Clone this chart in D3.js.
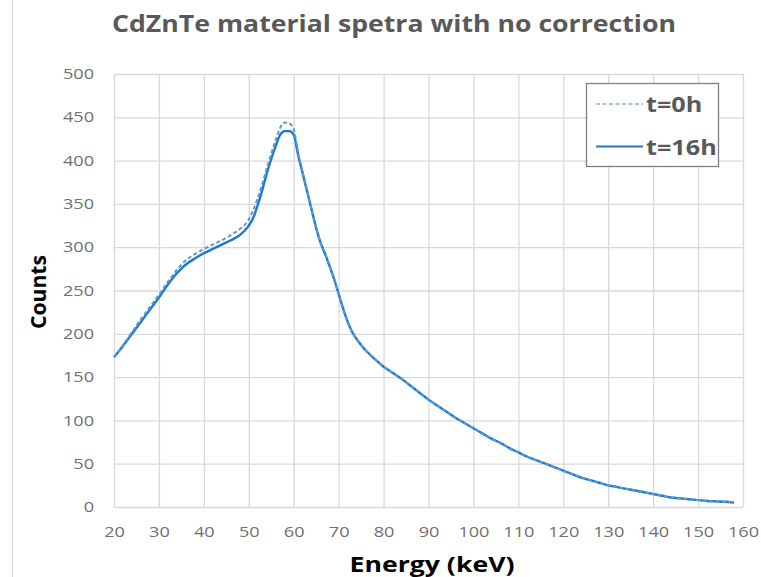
<!DOCTYPE html>
<html><head><meta charset="utf-8">
<script src="https://cdn.jsdelivr.net/npm/d3@7"></script>
<style>body{margin:0;background:#fff}svg{display:block}</style>
</head><body><svg id="c" width="761" height="577"></svg>
<script>
const energy =   [20,22,24,26,28,30,32,34,36,38,40,42,44,46,48,50,51,52,53,54,55,56,57,58,59,60,61,62,63,64,65,66,67,68,69,70,71,72,73,74,75,76,78,80,82,84,86,88,90,92,94,96,98,100,102,104,106,108,110,112,114,116,118,120,122,124,126,128,130,132,134,136,138,140,142,144,146,148,150,152,154,156,158];
const counts16 = [173,186,200,214,228,242,257,270,280,287,293,298,303,308,314,325,334,349,366,385,402,417,430,434,434,430,406,385,364,343,322,305,292,278,263,246,229,214,202,194,187,181,171,162,155,148,140,132,124,117,110,103,97,91,85,79,74,68,63,58,54,50,46,42,38,34,31,28,25,23,21,19,17,15,13,11,10,9,8,7,6.5,6,5];
const counts0 =  [173,187,202,217,231,245,260,274,285,292,298,303,308,314,321,332,343,357,373,391,408,424,438,444,443,436,409,386,365,343,322,305,292,278,263,246,229,214,202,194,187,181,171,162,155,148,140,132,124,117,110,103,97,91,85,79,74,68,63,58,54,50,46,42,38,34,31,28,25,23,21,19,17,15,13,11,10,9,8,7,6.5,6,5];
const xTicks = [20,30,40,50,60,70,80,90,100,110,120,130,140,150,160];
const yTicks = [0,50,100,150,200,250,300,350,400,450,500];
const seriesNames = ["t=0h","t=16h"];

const svg = d3.select("#c");
const font = "'Open Sans', sans-serif";
const L = 114, R = 743, T = 74, B = 507;
const x = d3.scaleLinear().domain([20,160]).range([L,R]);
const y = d3.scaleLinear().domain([0,500]).range([B,T]);

function stretch(sel, f){
  sel.each(function(){
    const w = this.getComputedTextLength();
    d3.select(this).attr("textLength", w*f).attr("lengthAdjust","spacingAndGlyphs");
  });
}

svg.append("line").attr("x1",12.5).attr("x2",12.5).attr("y1",0).attr("y2",577).attr("stroke","#d9d9d9");

// gridlines
svg.append("g").selectAll("line").data(yTicks).join("line")
  .attr("x1",L).attr("x2",R).attr("y1",d=>y(d)+0.5).attr("y2",d=>y(d)+0.5)
  .attr("stroke","#d9d9d9").attr("stroke-width",1.3);
svg.append("g").selectAll("line").data(xTicks).join("line")
  .attr("y1",T).attr("y2",B).attr("x1",d=>x(d)+0.5).attr("x2",d=>x(d)+0.5)
  .attr("stroke","#d9d9d9").attr("stroke-width",1.3);

// axes
const xa = svg.append("g").attr("transform",`translate(0,${B})`)
  .call(d3.axisBottom(x).tickValues(xTicks).tickSize(0).tickPadding(20).tickFormat(d3.format("d")));
const ya = svg.append("g").attr("transform",`translate(${L},0)`)
  .call(d3.axisLeft(y).tickValues(yTicks).tickSize(0).tickPadding(20).tickFormat(d3.format("d")));
[xa,ya].forEach(a=>{
  a.select(".domain").remove();
  a.selectAll("text").attr("fill","#707070").style("font-family",font).style("font-size","14.5px");
  stretch(a.selectAll("text"),1.25);
});

// lines
const line = vals => d3.line().x((d,i)=>x(energy[i])).y(d=>y(d)).curve(d3.curveMonotoneX)(vals);
svg.append("path").attr("d",line(counts16)).attr("fill","none").attr("stroke","#1f78c8").attr("stroke-width",2.4);
svg.append("path").attr("d",line(counts0)).attr("fill","none").attr("stroke","#5b9bd5").attr("stroke-width",2)
  .attr("stroke-dasharray","4,2.5");

// title
const title = svg.append("text").attr("x",394).attr("y",32).attr("text-anchor","middle")
  .style("font-family",font).style("font-weight","bold").style("font-size","24px").attr("fill","#595959")
  .text("CdZnTe material spetra with no correction");
title.attr("textLength",564).attr("lengthAdjust","spacingAndGlyphs");

// axis titles
const xt = svg.append("text").attr("x",432).attr("y",572).attr("text-anchor","middle")
  .style("font-family",font).style("font-weight","bold").style("font-size","21px").attr("fill","#000")
  .text("Energy (keV)");
xt.attr("textLength",165).attr("lengthAdjust","spacingAndGlyphs");
const yt = svg.append("text").attr("transform","translate(46,292) rotate(-90)").attr("text-anchor","middle")
  .style("font-family",font).style("font-weight","bold").style("font-size","21px").attr("fill","#000")
  .text("Counts");
yt.attr("textLength",74).attr("lengthAdjust","spacingAndGlyphs");

// legend
const lg = svg.append("g");
lg.append("rect").attr("x",586.5).attr("y",83.5).attr("width",132).attr("height",83)
  .attr("fill","#fff").attr("stroke","#7f7f7f").attr("stroke-width",1.3);
const legendStyles = [
  {stroke:"#9dc3e6", dash:"4,2.5", w:2},
  {stroke:"#1f78c8", dash:null, w:2.2}
];
seriesNames.forEach((n,i)=>{
  const yy = 104 + i*42.5;
  lg.append("line").attr("x1",596).attr("x2",643).attr("y1",yy).attr("y2",yy)
    .attr("stroke",legendStyles[i].stroke).attr("stroke-width",legendStyles[i].w)
    .attr("stroke-dasharray",legendStyles[i].dash);
  const t = lg.append("text").attr("x",646).attr("y",yy+8).style("font-family",font).style("font-weight","bold")
    .style("font-size","21px").attr("fill","#595959").text(n);
  stretch(t,1.2);
});
</script></body></html>
